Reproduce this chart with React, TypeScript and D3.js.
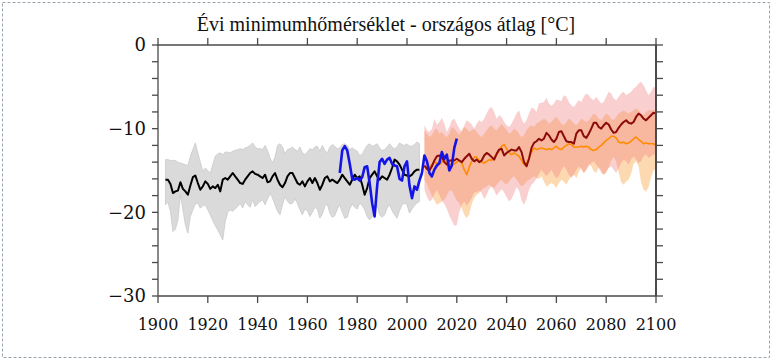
import React from 'react';
import * as d3 from 'd3';

// yearly series, first year given separately
const HIST_START = 1903;
const OBS_START = 1973;
const PROJ_START = 2007;

// modelled historical ensemble mean + spread (grey)
const histMean = [
  -16.1, -16.1, -16.6, -17.7, -17.5, -17.4, -16.4,
  -17.2, -17.5, -17.9, -16.8, -15.8, -15.6, -16.5, -17.3, -16.9, -16.3,
  -16.6, -17.2, -16.9, -17.1, -16.7, -17.5, -16.1, -15.9, -16.1, -15.7,
  -15.3, -15.7, -16.1, -16.5, -16.6, -16.1, -15.7, -15.3, -15.1, -15.4,
  -15.5, -15.7, -15.9, -15.5, -16.4, -16.3, -15.7, -15.3, -16.1, -16.7,
  -17.0, -16.5, -15.7, -15.3, -15.3, -15.9, -16.5, -16.7, -16.3, -16.9,
  -16.3, -15.9, -16.5, -15.9, -16.5, -17.3, -16.7, -15.9, -15.7, -16.3,
  -16.1, -16.3, -16.5, -16.1, -15.5, -15.9, -16.3, -16.7, -16.1, -15.5,
  -15.9, -15.7, -16.7, -17.9, -17.1, -15.9, -15.5, -15.1, -15.7, -16.1,
  -15.7, -15.9, -16.1, -15.5, -14.7, -13.7, -13.9, -14.3, -14.9, -15.5,
  -15.6, -15.7, -15.5, -15.1, -14.9, -14.9,
];
const histUpper = [
  -13.7, -13.7, -13.8, -13.8, -13.8, -14.0, -14.1,
  -14.2, -14.3, -14.4, -13.3, -12.5, -11.7, -12.9, -14.0, -15.1, -14.7,
  -15.0, -15.3, -14.3, -13.3, -13.0, -12.9, -13.1, -12.8, -12.8, -12.9,
  -12.7, -12.6, -12.5, -12.4, -12.5, -12.3, -12.2, -12.0, -11.7, -12.2,
  -12.4, -12.4, -12.5, -12.0, -12.6, -13.5, -14.1, -13.4, -12.0, -11.8,
  -12.2, -13.0, -12.5, -12.4, -12.2, -12.5, -12.7, -12.2, -12.9, -13.1,
  -12.8, -12.4, -12.5, -12.2, -12.1, -12.7, -12.0, -12.6, -12.9, -12.2,
  -11.9, -12.1, -12.4, -12.3, -11.9, -11.8, -12.0, -12.5, -12.3, -12.5,
  -12.7, -13.2, -13.1, -12.5, -12.0, -11.8, -12.1, -12.0, -11.8, -12.3,
  -12.6, -12.5, -12.2, -11.8, -12.2, -12.4, -12.2, -11.7, -11.9, -12.0,
  -11.8, -12.1, -12.1, -11.9, -11.6, -11.8,
];
const histLower = [
  -19.1, -18.8, -19.9, -22.3, -22.0, -20.9, -17.9,
  -19.7, -21.5, -22.5, -20.5, -19.7, -19.0, -18.9, -19.5, -19.2, -19.1,
  -19.7, -20.3, -21.0, -21.6, -22.1, -22.7, -23.3, -21.1, -20.0, -19.7,
  -19.9, -19.6, -19.3, -18.9, -19.5, -18.7, -19.1, -19.4, -18.5, -19.3,
  -19.0, -18.7, -18.5, -19.1, -18.4, -17.7, -18.3, -19.1, -19.9, -20.3,
  -19.1, -18.1, -18.7, -19.0, -18.9, -18.4, -18.9, -19.7, -20.3, -19.6,
  -19.8, -20.5, -20.0, -19.4, -19.6, -20.7, -20.2, -19.3, -19.0, -20.1,
  -20.6, -20.4, -19.6, -19.1, -20.0, -20.7, -20.6, -19.6, -19.0, -19.4,
  -19.6, -18.9, -19.2, -19.7, -20.5, -20.9, -20.5, -20.0, -19.1, -20.3,
  -20.6, -20.3, -19.5, -19.1, -19.8, -20.3, -20.7, -19.8, -19.1, -18.9,
  -19.1, -20.1, -19.6, -19.2, -18.9, -18.7,
];

// observations (blue)
const obs = [
  -15.3, -12.6, -12.1, -12.6, -14.2, -16.0, -16.1,
  -15.9, -16.2, -15.8, -14.6, -14.5, -16.5, -18.9, -20.5, -16.9, -14.0,
  -13.6, -14.2, -13.7, -13.5, -14.2, -14.4, -14.5, -16.0, -16.2, -14.5,
  -13.9, -16.8, -18.3, -16.9, -17.3, -16.2, -15.3, -13.2, -13.9, -15.3,
  -15.7, -14.9, -14.4, -14.1, -12.8, -13.6, -13.1, -15.0, -14.4, -12.3, -11.2,
];

// RCP8.5 (dark red line, pink band)
const rcp85Mean = [
  -14.4, -14.8, -15.0,
  -14.5, -13.8, -13.3, -13.2, -13.4, -14.0, -14.3, -13.8, -13.8, -13.8,
  -13.6, -13.8, -14.0, -13.6, -13.3, -13.0, -13.6, -13.9, -13.7, -14.0,
  -13.8, -13.2, -12.9, -13.1, -13.4, -13.7, -13.0, -12.5, -12.4, -13.2,
  -12.9, -12.7, -12.5, -12.6, -12.6, -12.2, -12.8, -14.0, -14.5, -13.6,
  -12.3, -11.7, -11.5, -11.2, -11.4, -11.2, -10.5, -10.8, -11.3, -11.6,
  -11.2, -10.4, -10.3, -10.9, -11.5, -11.6, -11.6, -11.8, -10.6, -10.2,
  -10.2, -10.9, -11.1, -10.6, -10.0, -9.3, -9.3, -9.8, -10.0, -9.6,
  -9.3, -9.5, -10.1, -10.5, -10.4, -9.9, -9.5, -9.2, -9.0, -9.3,
  -9.4, -9.2, -8.6, -8.2, -8.4, -8.8, -9.0, -8.7, -8.4, -8.1, -8.2,
];
const rcp85Upper = [
  -9.6, -10.2, -10.4,
  -10.0, -8.8, -9.5, -9.2, -8.7, -9.4, -10.4, -9.8, -9.0, -8.8,
  -9.4, -10.0, -10.4, -9.6, -9.0, -9.2, -9.5, -10.0, -9.4, -9.0,
  -9.2, -8.8, -8.2, -7.6, -7.4, -8.0, -8.8, -8.4, -8.6, -9.2,
  -9.6, -9.8, -9.4, -8.8, -8.2, -7.8, -8.8, -9.4, -9.0, -8.2,
  -7.5, -7.6, -8.0, -7.0, -6.9, -6.8, -6.3, -7.0, -7.3, -7.0,
  -6.5, -6.6, -6.7, -6.0, -6.2, -6.8, -7.2, -7.4, -7.0, -6.6,
  -6.8, -6.2, -5.8, -6.0, -6.4, -6.6, -6.2, -6.6, -7.0, -6.8,
  -6.2, -5.6, -5.8, -6.4, -6.6, -6.2, -5.8, -5.6, -6.0, -5.8,
  -5.6, -5.2, -5.0, -4.6, -4.4, -4.8, -5.4, -6.0, -5.6, -5.0, -5.2,
];
const rcp85Lower = [
  -17.3, -18.1, -18.7,
  -18.5, -17.8, -17.3, -17.9, -18.6, -19.0, -19.6, -20.4, -21.0, -21.6,
  -21.5, -20.0, -19.1, -18.7, -19.2, -18.8, -18.3, -17.6, -17.6, -17.4,
  -17.7, -18.4, -17.9, -17.2, -16.9, -17.4, -18.0, -17.6, -17.2, -17.6,
  -18.2, -18.7, -18.4, -17.7, -17.0, -17.4, -18.6, -19.1, -18.4, -17.3,
  -16.7, -16.4, -16.0, -15.4, -14.9, -15.3, -15.7, -15.3, -14.9, -15.5,
  -15.9, -15.7, -14.9, -14.5, -14.9, -15.5, -15.9, -15.5, -14.9, -14.5,
  -14.9, -15.3, -14.9, -14.5, -14.1, -13.9, -14.3, -14.7, -15.3, -15.5,
  -15.1, -14.7, -14.5, -14.9, -15.3, -14.7, -14.1, -13.7, -13.9, -14.3,
  -13.7, -13.3, -13.7, -14.1, -13.9, -13.3, -13.1, -13.5, -13.3, -13.1, -13.1,
];

// RCP4.5 (orange line, peach band)
const rcp45Mean = [
  -14.5, -14.8, -14.6,
  -14.3, -14.0, -14.1, -14.3, -14.0, -13.7, -14.0, -14.3, -14.3, -14.2,
  -14.0, -13.8, -14.1, -14.9, -15.5, -14.6, -13.9, -13.4, -13.4, -13.8,
  -14.0, -14.1, -13.9, -13.7, -13.8, -13.4, -13.1, -12.7, -12.1, -11.9,
  -12.4, -12.9, -13.1, -12.9, -13.1, -13.3, -13.8, -14.3, -14.1, -13.6,
  -12.8, -12.3, -12.5, -12.4, -12.3, -12.4, -12.5, -12.4, -12.5, -12.3,
  -12.1, -12.4, -12.5, -12.2, -12.0, -11.8, -11.9, -12.2, -12.2, -12.2,
  -12.1, -12.2, -12.1, -12.2, -12.5, -12.6, -12.5, -12.2, -12.0, -11.7,
  -11.4, -11.2, -10.9, -10.9, -11.1, -11.6, -11.7, -11.6, -11.8, -11.7,
  -11.5, -11.2, -11.0, -11.3, -11.5, -11.8, -11.7, -11.8, -11.8, -11.8, -12.0,
];
const rcp45Upper = [
  -10.2, -10.6, -11.0,
  -10.8, -10.2, -10.0, -10.6, -10.4, -10.8, -11.0, -10.6, -9.8, -10.0,
  -10.4, -10.8, -10.2, -9.8, -10.0, -10.4, -10.2, -10.0, -10.4, -10.8,
  -11.0, -10.6, -10.2, -9.8, -9.6, -10.0, -10.2, -9.8, -9.4, -9.8,
  -10.2, -10.6, -10.4, -10.0, -10.2, -10.6, -11.0, -10.8, -10.2, -9.8,
  -9.6, -9.8, -9.4, -9.2, -9.0, -8.8, -9.0, -9.4, -9.2, -8.8,
  -8.6, -9.0, -9.4, -9.6, -9.2, -8.8, -9.0, -9.4, -9.6, -9.2,
  -8.8, -9.0, -9.2, -9.0, -8.6, -8.2, -8.4, -8.8, -9.0, -8.6,
  -8.2, -8.4, -8.8, -9.0, -8.6, -8.2, -8.0, -7.8, -8.0, -8.2,
  -8.0, -7.8, -7.6, -7.8, -8.2, -8.4, -8.0, -7.8, -7.8, -7.8, -7.9,
];
const rcp45Lower = [
  -16.1, -16.6, -17.4,
  -18.0, -18.6, -19.1, -18.9, -18.7, -18.5, -18.0, -17.4, -17.4, -18.0,
  -18.6, -18.9, -19.5, -20.3, -20.7, -20.2, -19.0, -18.3, -17.9, -17.7,
  -17.3, -17.1, -16.9, -16.7, -16.9, -17.1, -16.7, -16.3, -16.1, -16.5,
  -16.7, -16.3, -15.9, -15.7, -16.1, -16.5, -16.9, -16.7, -16.3, -16.1,
  -15.9, -15.7, -15.9, -16.0, -15.7, -16.3, -16.9, -16.7, -16.5, -16.7,
  -17.1, -16.5, -16.1, -16.3, -16.7, -16.1, -15.7, -15.5, -15.9, -15.2,
  -14.6, -15.3, -14.9, -14.2, -14.5, -15.1, -15.3, -14.6, -14.9, -15.5,
  -15.3, -14.6, -13.8, -13.4, -13.9, -15.2, -16.4, -16.7, -16.3, -16.1,
  -15.4, -14.2, -13.9, -14.5, -16.4, -17.3, -17.5, -17.0, -15.8, -15.0, -14.8,
];

const xTicks = [1900, 1920, 1940, 1960, 1980, 2000, 2020, 2040, 2060, 2080, 2100];
const yLabels = [0, -10, -20, -30];
const yMinor = d3.range(-30, 1, 2);

const TITLE = 'Évi minimumhőmérséklet - országos átlag [°C]';

const W = 772;
const H = 360;

export default function App() {
  const x = d3.scaleLinear().domain([1900, 2100]).range([158, 656]);
  const y = d3.scaleLinear().domain([-30, 0]).range([296, 45]);

  const linePath = (start: number, vals: number[]) =>
    d3.line<number>().x((_, i) => x(start + i)).y(d => y(d))(vals) || '';

  const bandPath = (start: number, lo: number[], hi: number[]) =>
    d3.area<number>()
      .x((_, i) => x(start + i))
      .y0(d => y(d))
      .y1((_, i) => y(hi[i]))(lo) || '';

  const fmt = (v: number) => (v < 0 ? `\u2212${-v}` : `${v}`);
  const axisCol = '#4a4a4a';
  const [x0, x1] = x.range();
  const [yb, yt] = y.range();

  return (
    <svg width={W} height={H} style={{ position: 'absolute', left: 0, top: 0, background: '#fff' }}>
      <rect x={2.5} y={2.5} width={767} height={355} fill="#fff" stroke="#97a3ad" strokeDasharray="3,2" />

      <text x={386} y={31} textAnchor="middle" fontFamily="'Liberation Serif', 'Times New Roman', serif" fontSize={20} fill="#111">
        {TITLE}
      </text>

      {/* bands */}
      <path d={bandPath(HIST_START, histLower, histUpper)} fill="#dadada" stroke="#c9c9c9" strokeWidth={0.8} />
      <path d={bandPath(PROJ_START, rcp45Lower, rcp45Upper)} fill="#fdcf9f" fillOpacity={0.8} />
      <path d={bandPath(PROJ_START, rcp85Lower, rcp85Upper)} fill="#f08080" fillOpacity={0.38} />

      {/* lines */}
      <path d={linePath(HIST_START, histMean)} fill="none" stroke="#000" strokeWidth={2} strokeLinejoin="round" />
      <path d={linePath(PROJ_START, rcp45Mean)} fill="none" stroke="#ff8c00" strokeWidth={1.6} strokeLinejoin="round" />
      <path d={linePath(PROJ_START, rcp85Mean)} fill="none" stroke="#8b0a0a" strokeWidth={2} strokeLinejoin="round" />
      <path d={linePath(OBS_START, obs)} fill="none" stroke="#1414e6" strokeWidth={2.6} strokeLinejoin="round" />

      {/* frame */}
      <g stroke={axisCol} fill="none">
        <line x1={x0} x2={x1} y1={yt} y2={yt} strokeWidth={1.3} />
        <line x1={x0} x2={x1} y1={yb} y2={yb} strokeWidth={1.3} />
        <line x1={x0} x2={x0} y1={yt} y2={yb} strokeWidth={1.3} />
        <line x1={x1} x2={x1} y1={yt} y2={yb} strokeWidth={2} />
        {yMinor.map(v => (
          <g key={`yt${v}`}>
            <line x1={x0 - 6} x2={x0} y1={y(v)} y2={y(v)} strokeWidth={1.3} />
            <line x1={x1} x2={x1 + 7} y1={y(v)} y2={y(v)} strokeWidth={1.3} />
          </g>
        ))}
        {xTicks.map(t => (
          <g key={`xt${t}`}>
            <line x1={x(t)} x2={x(t)} y1={yb} y2={yb + 7} strokeWidth={1.3} />
            <line x1={x(t)} x2={x(t)} y1={yt} y2={yt - 7} strokeWidth={1.3} />
          </g>
        ))}
      </g>

      <g fontFamily="'DejaVu Serif', serif" fill="#111">
        {yLabels.map(v => (
          <text key={`yl${v}`} x={146} y={y(v)} dy="0.36em" textAnchor="end" fontSize={18}>
            {fmt(v)}
          </text>
        ))}
        {xTicks.map(t => (
          <text key={`xl${t}`} x={x(t)} y={330} textAnchor="middle" fontSize={16}>
            {t}
          </text>
        ))}
      </g>
    </svg>
  );
}
